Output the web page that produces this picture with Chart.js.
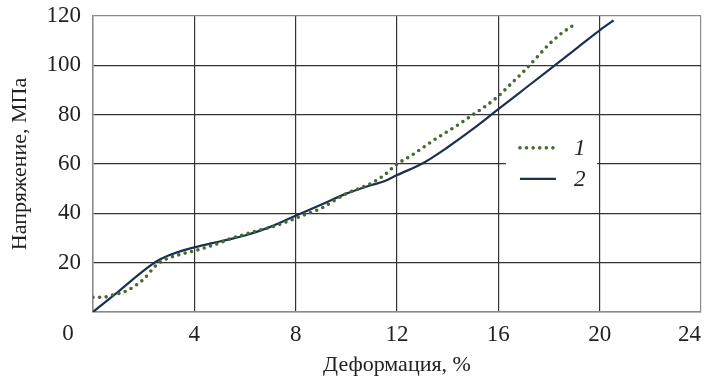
<!DOCTYPE html>
<html>
<head>
<meta charset="utf-8">
<script src="https://cdn.jsdelivr.net/npm/chart.js@4.4.1/dist/chart.umd.min.js"></script>
<style>
  html, body { margin: 0; padding: 0; background: #fff; }
  #wrap { width: 708px; height: 380px; position: relative; }
</style>
</head>
<body>
<div id="wrap"><canvas id="stressChart"></canvas></div>
<script>
// Curve 1 (dotted) - deformation, % / stress, MPa
const strain1 = [0, 0.4, 0.8, 1.2, 1.6, 2, 2.5, 2.9, 3.5, 4, 4.5, 5, 5.5, 6, 6.5, 7, 7.5, 8, 8.5, 9, 9.5, 10,
                 10.5, 11, 11.5, 12, 12.5, 13, 13.5, 14, 14.5, 15, 15.5, 16, 16.5, 17, 17.5, 18, 18.5, 19];
const stress1 = [6, 6, 7, 8, 10.2, 13.3, 19, 21.5, 23.5, 24.8, 26.3, 28, 30, 31.5, 33, 34.3, 36, 38, 40, 42, 45, 48,
                 50, 52.3, 55.5, 60, 63, 66.5, 70, 73.2, 76.5, 80, 83.5, 87.5, 92.5, 97.5, 103, 108.5, 113, 116.5];

// Curve 2 (solid)
const strain2 = [0, 1, 2, 2.5, 3, 3.5, 4, 5, 6, 7, 8, 9, 10, 11, 11.5, 12, 13, 14, 15, 16, 17, 18, 19, 20, 20.55];
const stress2 = [0, 8.3, 16.8, 20.5, 23, 24.8, 26.2, 28.6, 31, 34.5, 39, 43.5, 48, 51.5, 53, 55.5, 60.2, 66.8,
                 74.2, 82.2, 90.2, 98.2, 106.2, 114.2, 118.2];

const legendLabels = ['1', '2'];
const xTicks = [0, 4, 8, 12, 16, 20, 24];
const yTicks = [0, 20, 40, 60, 80, 100, 120];

const FONT = '"Liberation Serif", "Times New Roman", serif';
const toPoints = (xs, ys) => xs.map((x, i) => ({ x, y: ys[i] }));

// white box with samples, sits inside the plot like in the paper figure
const insetLegend = {
    id: 'insetLegend',
    afterDatasetsDraw(chart) {
        const { ctx, scales: { x, y } } = chart;
        const left = x.getPixelForValue(16.3), right = x.getPixelForValue(19.9);
        const top = y.getPixelForValue(71), bottom = y.getPixelForValue(49);
        ctx.save();
        ctx.fillStyle = '#fff';
        ctx.fillRect(left, top, right - left, bottom - top);
        chart.data.datasets.forEach((ds, i) => {
            const yy = top + 11 + i * 31;
            ctx.beginPath();
            ctx.strokeStyle = ds.borderColor;
            ctx.lineWidth = ds.borderWidth;
            ctx.lineCap = ds.borderCapStyle || 'butt';
            ctx.setLineDash(ds.borderDash || []);
            ctx.moveTo(left + 14, yy);
            ctx.lineTo(left + 50, yy);
            ctx.stroke();
            ctx.setLineDash([]);
            ctx.fillStyle = '#222';
            ctx.font = 'italic 23px ' + FONT;
            ctx.textBaseline = 'middle';
            ctx.fillText(legendLabels[i], left + 68, yy + 1);
        });
        ctx.restore();
    }
};

// the shared "0" at the origin sits below and left of the corner
const originLabel = {
    id: 'originLabel',
    afterDraw(chart) {
        const { ctx, chartArea } = chart;
        ctx.save();
        ctx.fillStyle = '#222';
        ctx.font = '23px ' + FONT;
        ctx.textAlign = 'center';
        ctx.textBaseline = 'middle';
        ctx.fillText('0', chartArea.left - 25, chartArea.bottom + 22);
        ctx.restore();
    }
};

function gridColor(max) {
    return (c) => (c.tick && (c.tick.value === max || c.tick.value === 0)) ? '#8a8a8a' : '#333';
}

new Chart(document.getElementById('stressChart'), {
    type: 'line',
    data: {
        datasets: [
            {
                label: legendLabels[0],
                data: toPoints(strain1, stress1),
                borderColor: '#456a2f',
                borderWidth: 3.6,
                borderDash: [0, 6.6],
                borderCapStyle: 'round',
                pointRadius: 0,
                fill: false,
                cubicInterpolationMode: 'monotone'
            },
            {
                label: legendLabels[1],
                data: toPoints(strain2, stress2),
                borderColor: '#1b2f4f',
                borderWidth: 2.2,
                pointRadius: 0,
                fill: false,
                cubicInterpolationMode: 'monotone'
            }
        ]
    },
    options: {
        responsive: true,
        maintainAspectRatio: false,
        animation: false,
        layout: { padding: { left: 0, right: 7, top: 16, bottom: 0 } },
        plugins: {
            legend: { display: false },
            tooltip: { enabled: false }
        },
        scales: {
            x: {
                type: 'linear',
                min: xTicks[0],
                max: xTicks[xTicks.length - 1],
                afterBuildTicks: (s) => { s.ticks = xTicks.map(v => ({ value: v })); },
                afterFit: (s) => { s.height = 68; s.paddingLeft = 0; s.paddingRight = 0; },
                ticks: {
                    padding: 9,
                    align: 'inner',
                    color: '#222',
                    font: { family: FONT, size: 23 },
                    callback: (v) => v === 0 ? '' : v
                },
                grid: { color: gridColor(24), lineWidth: 1.2, drawTicks: false },
                border: { color: '#8a8a8a', width: 1.5 },
                title: {
                    display: true,
                    text: 'Деформация, %',
                    color: '#222',
                    font: { family: FONT, size: 22 },
                    padding: { top: 4, bottom: 2 }
                }
            },
            y: {
                min: yTicks[0],
                max: yTicks[yTicks.length - 1],
                afterBuildTicks: (s) => { s.ticks = yTicks.map(v => ({ value: v })); },
                afterFit: (s) => { s.width = 93; s.paddingTop = 0; s.paddingBottom = 0; },
                ticks: {
                    padding: 12,
                    color: '#222',
                    font: { family: FONT, size: 23 },
                    callback: (v) => v === 0 ? '' : v
                },
                grid: { color: gridColor(120), lineWidth: 1.2, drawTicks: false },
                border: { color: '#8a8a8a', width: 1.5 },
                title: {
                    display: true,
                    text: 'Напряжение, МПа',
                    color: '#222',
                    font: { family: FONT, size: 22 },
                    padding: { top: 7, bottom: 0 }
                }
            }
        }
    },
    plugins: [insetLegend, originLabel]
});
</script>
</body>
</html>
